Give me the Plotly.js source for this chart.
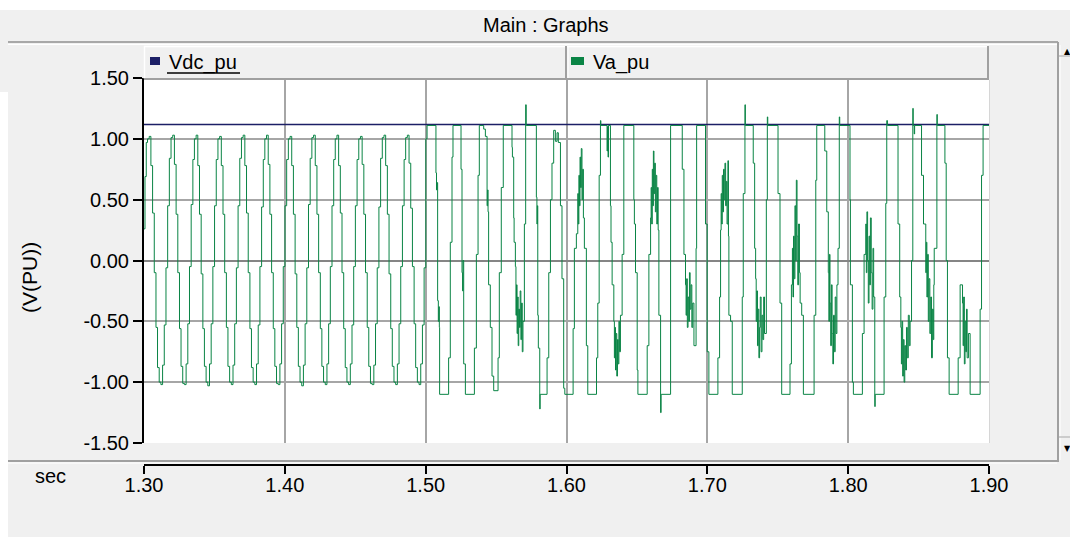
<!DOCTYPE html>
<html>
<head>
<meta charset="utf-8">
<script src="https://cdn.plot.ly/plotly-3.0.1.min.js"></script>
<style>
html,body{margin:0;padding:0;background:#f0f0f0;}
#chart{width:1070px;height:537px;}
</style>
</head>
<body>
<div id="chart"></div>
<script>
// ---------------- DATA ----------------
const seriesNames = ['Vdc_pu', 'Va_pu'];

// Vdc_pu : almost constant DC level
const tVdc = [1.30, 1.90];
const vVdc = [1.118, 1.118];

// Va_pu, steady multilevel staircase part (1.30 - 1.50 s), step changes
const tSteady = [
 1.3000, 1.3007, 1.3016,
 1.3025, 1.3037, 1.3049, 1.3061, 1.3073, 1.3085, 1.3096, 1.3108, 1.3120, 1.3132, 1.3144, 1.3156, 1.3168, 1.3180,
 1.3192, 1.3204, 1.3216, 1.3228, 1.3240, 1.3252, 1.3263, 1.3275, 1.3287, 1.3299, 1.3311, 1.3323, 1.3335, 1.3347,
 1.3358, 1.3370, 1.3382, 1.3394, 1.3406, 1.3418, 1.3429, 1.3441, 1.3453, 1.3465, 1.3477, 1.3489, 1.3501, 1.3513,
 1.3525, 1.3537, 1.3549, 1.3561, 1.3573, 1.3585, 1.3596, 1.3608, 1.3620, 1.3632, 1.3644, 1.3656, 1.3668, 1.3680,
 1.3692, 1.3704, 1.3716, 1.3728, 1.3740, 1.3752, 1.3763, 1.3775, 1.3787, 1.3799, 1.3811, 1.3823, 1.3835, 1.3847,
 1.3858, 1.3870, 1.3882, 1.3894, 1.3906, 1.3918, 1.3929, 1.3941, 1.3953, 1.3965, 1.3977, 1.3989, 1.4001, 1.4013,
 1.4025, 1.4037, 1.4049, 1.4061, 1.4073, 1.4085, 1.4096, 1.4108, 1.4120, 1.4132, 1.4144, 1.4156, 1.4168, 1.4180,
 1.4192, 1.4204, 1.4216, 1.4228, 1.4240, 1.4252, 1.4263, 1.4275, 1.4287, 1.4299, 1.4311, 1.4323, 1.4335, 1.4347,
 1.4358, 1.4370, 1.4382, 1.4394, 1.4406, 1.4418, 1.4429, 1.4441, 1.4453, 1.4465, 1.4477, 1.4489, 1.4501, 1.4513,
 1.4525, 1.4537, 1.4549, 1.4561, 1.4573, 1.4585, 1.4596, 1.4608, 1.4620, 1.4632, 1.4644, 1.4656, 1.4668, 1.4680,
 1.4692, 1.4704, 1.4716, 1.4728, 1.4740, 1.4752, 1.4763, 1.4775, 1.4787, 1.4799, 1.4811, 1.4823, 1.4835, 1.4847,
 1.4858, 1.4870, 1.4882, 1.4894, 1.4906, 1.4918, 1.4929, 1.4941, 1.4953, 1.4965, 1.4977, 1.4989, 1.5001
];
const vSteady = [
 0.26, 0.69, 0.97,
 1.00, 1.02, 0.78, 0.39, -0.10, -0.55, -0.88, -1.00, -1.02, -0.86, -0.53, -0.06, 0.45, 0.84,
 1.01, 1.03, 0.79, 0.38, -0.10, -0.56, -0.87, -1.01, -1.02, -0.85, -0.52, -0.05, 0.46, 0.83,
 1.00, 1.03, 0.78, 0.38, -0.11, -0.56, -0.87, -1.00, -1.03, -0.85, -0.52, -0.05, 0.45, 0.83,
 1.00, 1.02, 0.78, 0.38, -0.10, -0.55, -0.87, -1.00, -1.02, -0.86, -0.52, -0.06, 0.45, 0.84,
 1.01, 1.03, 0.78, 0.39, -0.10, -0.56, -0.88, -1.00, -1.02, -0.85, -0.53, -0.05, 0.44, 0.83,
 1.00, 1.03, 0.79, 0.38, -0.10, -0.56, -0.87, -1.01, -1.02, -0.85, -0.52, -0.05, 0.45, 0.83,
 1.00, 1.02, 0.78, 0.38, -0.11, -0.55, -0.87, -1.00, -1.03, -0.86, -0.52, -0.06, 0.46, 0.84,
 1.01, 1.03, 0.78, 0.38, -0.10, -0.56, -0.87, -1.00, -1.02, -0.85, -0.52, -0.05, 0.45, 0.83,
 1.00, 1.03, 0.78, 0.39, -0.10, -0.56, -0.88, -1.00, -1.02, -0.85, -0.53, -0.05, 0.45, 0.83,
 1.00, 1.02, 0.79, 0.38, -0.10, -0.55, -0.87, -1.01, -1.02, -0.86, -0.52, -0.06, 0.44, 0.84,
 1.01, 1.03, 0.78, 0.38, -0.11, -0.56, -0.87, -1.00, -1.02, -0.85, -0.52, -0.05, 0.45, 0.83,
 1.01, 1.03, 0.80, 0.43, -0.05, -0.52, -0.88, -1.00, -1.02, -0.85, -0.53, -0.06, 1.00
];

// Va_pu, disturbed part (1.50 - 1.90 s), step changes
const tDisturbed = [
 1.5010, 1.5073, 1.5077, 1.5081, 1.5085, 1.5090, 1.5094, 1.5097, 1.5099, 1.5163, 1.5175, 1.5187, 1.5194,
 1.5251, 1.5258, 1.5262, 1.5265, 1.5270, 1.5282, 1.5346, 1.5360, 1.5372, 1.5381, 1.5412, 1.5424,
 1.5436, 1.5440, 1.5443, 1.5447, 1.5459, 1.5471, 1.5483, 1.5514, 1.5523, 1.5537, 1.5551,
 1.5613, 1.5616, 1.5625, 1.5628, 1.5637, 1.5641, 1.5645, 1.5649, 1.5653, 1.5657, 1.5661, 1.5666,
 1.5671, 1.5676, 1.5681, 1.5686, 1.5691, 1.5701, 1.5710, 1.5714,
 1.5786, 1.5790, 1.5793, 1.5796, 1.5800, 1.5810, 1.5813, 1.5862, 1.5874, 1.5886, 1.5897, 1.5909,
 1.5921, 1.5933, 1.5942, 1.5957, 1.5968, 1.5980, 1.5988,
 1.6047, 1.6056, 1.6070, 1.6080, 1.6084, 1.6088, 1.6092, 1.6096, 1.6100, 1.6105, 1.6110, 1.6115,
 1.6120, 1.6127, 1.6141, 1.6151, 1.6213, 1.6222, 1.6232, 1.6241, 1.6244,
 1.6288, 1.6291, 1.6295, 1.6298, 1.6312, 1.6316, 1.6324, 1.6336, 1.6340, 1.6344, 1.6348, 1.6352,
 1.6357, 1.6362, 1.6367, 1.6372, 1.6377, 1.6383, 1.6395, 1.6407,
 1.6478, 1.6482, 1.6490, 1.6502, 1.6507, 1.6573, 1.6585, 1.6597, 1.6601, 1.6605, 1.6609, 1.6613,
 1.6617, 1.6621, 1.6626, 1.6631, 1.6636, 1.6641, 1.6646, 1.6651, 1.6656, 1.6668, 1.6672, 1.6739,
 1.6822, 1.6834, 1.6845, 1.6849, 1.6853, 1.6858, 1.6863, 1.6868, 1.6873, 1.6878, 1.6884, 1.6890,
 1.6896, 1.6905, 1.6920, 1.6924, 1.6987, 1.6999, 1.7011,
 1.7075, 1.7087, 1.7094, 1.7098, 1.7102, 1.7106, 1.7110, 1.7115, 1.7120, 1.7125, 1.7130, 1.7135,
 1.7140, 1.7146, 1.7150, 1.7153, 1.7165, 1.7177, 1.7248, 1.7255, 1.7267, 1.7270,
 1.7326, 1.7336, 1.7343, 1.7347, 1.7351, 1.7356, 1.7361, 1.7366, 1.7371, 1.7376, 1.7382, 1.7388,
 1.7394, 1.7400, 1.7406, 1.7419, 1.7426, 1.7429,
 1.7502, 1.7516, 1.7528, 1.7587, 1.7597, 1.7604, 1.7608, 1.7612, 1.7617, 1.7622, 1.7627, 1.7632,
 1.7637, 1.7642, 1.7648, 1.7654, 1.7659, 1.7670, 1.7682, 1.7758, 1.7770, 1.7777,
 1.7834, 1.7848, 1.7859, 1.7863, 1.7867, 1.7871, 1.7876, 1.7881, 1.7886, 1.7891, 1.7896, 1.7902,
 1.7908, 1.7914, 1.7920, 1.7928, 1.7937, 1.7940,
 1.8013, 1.8016, 1.8030, 1.8037, 1.8101, 1.8113, 1.8125, 1.8129, 1.8133, 1.8138, 1.8143, 1.8148,
 1.8153, 1.8158, 1.8164, 1.8170, 1.8176, 1.8181, 1.8189, 1.8192, 1.8255, 1.8267, 1.8274, 1.8279,
 1.8354, 1.8366, 1.8374, 1.8378, 1.8382, 1.8387, 1.8392, 1.8397, 1.8402, 1.8408, 1.8414, 1.8420,
 1.8427, 1.8434, 1.8440, 1.8450, 1.8459, 1.8462, 1.8469, 1.8472,
 1.8521, 1.8535, 1.8551, 1.8555, 1.8559, 1.8564, 1.8569, 1.8574, 1.8580, 1.8586, 1.8592, 1.8598,
 1.8604, 1.8608, 1.8611, 1.8630, 1.8633,
 1.8687, 1.8696, 1.8705, 1.8717, 1.8781, 1.8795, 1.8812, 1.8816, 1.8820, 1.8825, 1.8830, 1.8835,
 1.8840, 1.8845, 1.8854, 1.8866, 1.8937, 1.8947, 1.8958, 1.9000
];
const vDisturbed = [
 1.11, 0.72, 0.58, 0.64, -0.33, -0.50, -0.38, -0.55, -1.10, -0.80, 0.15, 0.85, 1.11,
 0.75, -0.10, -0.25, 0.00, -0.85, -1.10, -0.72, 0.05, 0.70, 1.11, 1.08, 1.02,
 0.45, 0.58, 0.40, -0.20, -0.55, -0.95, -1.07, -0.80, -0.10, 0.60, 1.11,
 0.93, 0.85, 0.35, 0.15, -0.05, -0.45, -0.20, -0.60, -0.30, -0.70, -0.40, -0.55,
 -0.25, -0.65, -0.35, -0.75, -0.50, 0.30, 1.28, 1.11,
 0.52, 0.30, 0.45, -0.45, -0.72, -1.22, -1.10, -0.80, -0.10, 0.50, 0.80, 1.07,
 0.98, 1.05, 0.97, 0.45, -0.15, -1.05, -1.10,
 -0.56, 0.10, 0.22, 0.55, 0.30, 0.70, 0.45, 0.85, 0.60, 0.92, 0.50, 0.75,
 0.35, 0.10, -0.70, -1.10, -0.80, -0.35, 0.70, 1.15, 1.11,
 0.90, 1.10, 0.85, 1.11, 0.45, 0.15, -0.20, -0.50, -0.80, -0.55, -0.90, -0.60,
 -0.95, -0.65, -0.85, -0.50, -0.75, -0.45, 0.05, 1.11,
 0.50, 0.30, -0.10, -0.90, -1.10, -0.70, 0.05, 0.35, 0.60, 0.30, 0.75, 0.45,
 0.90, 0.55, 0.80, 0.40, 0.70, 0.30, 0.60, 0.25, -0.45, -1.25, -1.10, 1.11,
 0.75, 0.05, -0.20, -0.45, -0.15, -0.55, -0.30, -0.50, -0.10, -0.40, -0.20, -0.55,
 -0.35, -0.70, 0.10, 1.11, 0.30, -0.75, -1.10,
 -0.80, -0.30, 0.25, 0.55, 0.30, 0.70, 0.40, 0.75, 0.50, 0.80, 0.45, 0.65,
 0.30, 0.82, 0.20, -0.45, -0.50, -1.10, -0.30, 0.55, 1.28, 1.11,
 0.80, 0.10, -0.15, -0.50, -0.25, -0.70, -0.40, -0.80, -0.55, -0.30, -0.75, -0.45,
 -0.65, -0.30, -0.60, 0.50, 1.18, 1.11,
 0.55, -0.35, -1.10, -0.85, -0.20, 0.10, -0.30, 0.20, -0.15, 0.45, 0.00, 0.66,
 0.20, -0.20, 0.30, -0.10, -0.35, -0.45, -1.10, -0.45, 0.66, 1.11,
 0.90, 0.40, -0.10, -0.50, 0.05, -0.35, -0.70, -0.20, -0.60, -0.85, -0.45, -0.75,
 -0.30, -0.60, -0.20, 0.10, 1.18, 1.11,
 0.50, -0.20, -1.00, -1.10, -0.60, 0.05, 0.30, -0.10, 0.40, 0.00, -0.35, 0.20,
 -0.20, 0.35, -0.10, -0.40, 0.10, -0.30, -1.20, -1.10, -0.30, 0.47, 1.15, 1.11,
 0.30, -0.30, -0.55, -0.85, -0.50, -0.95, -0.65, -1.00, -0.70, -0.90, -0.55, -0.80,
 -0.45, -0.70, -0.50, 0.00, 1.25, 1.11, 1.04, 1.11,
 0.70, 0.30, -0.10, 0.15, -0.30, 0.05, -0.50, -0.15, -0.60, -0.30, -0.80, -0.40,
 -0.65, -0.20, 0.10, 1.20, 1.11,
 0.80, 0.00, -0.80, -1.10, -0.80, -0.20, -0.35, -0.70, -0.30, -0.85, -0.50, -0.75,
 -0.40, -0.80, -0.60, -1.10, -0.40, 0.70, 1.11, 1.11
];

// Axis ticks
const xTickVals = [1.30, 1.40, 1.50, 1.60, 1.70, 1.80, 1.90];
const xTickText = ['1.30', '1.40', '1.50', '1.60', '1.70', '1.80', '1.90'];
const yTickVals = [-1.5, -1.0, -0.5, 0, 0.5, 1.0, 1.5];
const yTickText = ['-1.50', '-1.00', '-0.50', '0.00', '0.50', '1.00', '1.50'];

// ---------------- CHART ----------------
const W = 1070, H = 537;
const L = 144, R = 989, T = 78, B = 465;       // paper area in pixels
const plotBottom = 443;                          // bottom of white plot area
const px = X => (X - L) / (R - L);
const py = Y => (B - Y) / (B - T);

const tVa = tSteady.concat(tDisturbed);
const vVa = vSteady.concat(vDisturbed);

const navy = '#1c1f66';
const green = '#0a8445';

const traces = [
  { x: tVdc, y: vVdc, type: 'scatter', mode: 'lines', name: seriesNames[0],
    line: { color: navy, width: 1.6 }, hoverinfo: 'skip' },
  { x: tVa, y: vVa, type: 'scatter', mode: 'lines', name: seriesNames[1],
    line: { color: green, width: 1, shape: 'hv' }, hoverinfo: 'skip' }
];

function hline(Y, X0, X1, color, w) {
  return { type: 'line', xref: 'paper', yref: 'paper', x0: px(X0), x1: px(X1), y0: py(Y), y1: py(Y),
           line: { color: color, width: w } };
}
function vline(X, Y0, Y1, color, w) {
  return { type: 'line', xref: 'paper', yref: 'paper', x0: px(X), x1: px(X), y0: py(Y0), y1: py(Y1),
           line: { color: color, width: w } };
}
function rect(X0, Y0, X1, Y1, fill) {
  return { type: 'rect', xref: 'paper', yref: 'paper', x0: px(X0), x1: px(X1), y0: py(Y0), y1: py(Y1),
           fillcolor: fill, line: { width: 0 } };
}

const shapes = [
  rect(-5, -5, 1075, 10, '#ffffff'),
  rect(-5, 92, 8, 545, '#ffffff'),
  hline(42, 8, 1058, '#a8a8a8', 2),
  hline(44.5, 8, 1057, '#ffffff', 1),
  // legend header
  hline(46.5, 144, 988, '#ffffff', 1.5),
  vline(144.5, 46, 79, '#ffffff', 1.5),
  hline(79, 144, 989, '#a0a0a0', 2),
  vline(566, 46, 79, '#a0a0a0', 2),
  vline(568, 47, 78, '#ffffff', 1),
  vline(988, 46, 79, '#a0a0a0', 2),
  rect(150, 57, 160, 65, navy),
  rect(571, 57, 584, 65, green),
  hline(73, 167, 240, '#000000', 1.5),
  // right border of plot
  vline(989.5, 80, 443, '#d6d6d6', 1),
  // separator above x axis
  hline(461, 8, 1058, '#a0a0a0', 2),
  hline(463, 8, 1057, '#ffffff', 1),
  // scrollbar
  vline(1058, 42, 462, '#a0a0a0', 2),
  vline(1060, 45, 460, '#ffffff', 1),
  hline(56, 1059, 1075, '#c0c0c0', 1.5),
  hline(437, 1059, 1075, '#c0c0c0', 1.5)
];

const FONT = 'Liberation Sans, Arial, sans-serif';
const annotations = [
  { text: 'Main : Graphs', xref: 'paper', yref: 'paper', x: px(545.5), y: py(25), xanchor: 'center', yanchor: 'middle',
    showarrow: false, font: { family: FONT, size: 20, color: '#000' } },
  { text: seriesNames[0], xref: 'paper', yref: 'paper', x: px(167), y: py(62), xanchor: 'left', yanchor: 'middle',
    showarrow: false, font: { family: FONT, size: 20, color: '#000' } },
  { text: seriesNames[1], xref: 'paper', yref: 'paper', x: px(591), y: py(62), xanchor: 'left', yanchor: 'middle',
    showarrow: false, font: { family: FONT, size: 20, color: '#000' } },
  { text: '(V(PU))', xref: 'paper', yref: 'paper', x: px(29), y: py(278), xanchor: 'center', yanchor: 'middle',
    textangle: -90, showarrow: false, font: { family: FONT, size: 21, color: '#000' } },
  { text: 'sec', xref: 'paper', yref: 'paper', x: px(50), y: py(476), xanchor: 'center', yanchor: 'middle',
    showarrow: false, font: { family: FONT, size: 20, color: '#000' } },
  { text: '▲', xref: 'paper', yref: 'paper', x: px(1062), y: py(51), xanchor: 'left', yanchor: 'middle',
    showarrow: false, font: { family: 'DejaVu Sans', size: 8, color: '#000' } },
  { text: '▼', xref: 'paper', yref: 'paper', x: px(1062), y: py(448), xanchor: 'left', yanchor: 'middle',
    showarrow: false, font: { family: 'DejaVu Sans', size: 8, color: '#000' } }
];

const layout = {
  width: W, height: H,
  margin: { l: L, r: W - R, t: T, b: H - B, pad: 0 },
  paper_bgcolor: '#f0f0f0',
  plot_bgcolor: '#ffffff',
  showlegend: false,
  font: { family: FONT, size: 20, color: '#000' },
  xaxis: {
    range: [1.30, 1.90], anchor: 'free', position: 0,
    tickmode: 'array', tickvals: xTickVals, ticktext: xTickText,
    ticks: 'outside', ticklen: 8, tickwidth: 2, tickcolor: '#000',
    ticklabelstandoff: -6,
    showline: true, linecolor: '#000', linewidth: 2,
    showgrid: true, gridcolor: '#a6a6a6', gridwidth: 2, zeroline: false,
    tickfont: { family: FONT, size: 20, color: '#000' }, fixedrange: true
  },
  yaxis: {
    range: [-1.5, 1.5], domain: [py(plotBottom), 1], anchor: 'x',
    tickmode: 'array', tickvals: yTickVals, ticktext: yTickText,
    ticks: 'outside', ticklen: 9, tickwidth: 2, tickcolor: '#000',
    showline: true, linecolor: '#000', linewidth: 2,
    showgrid: true, gridcolor: '#a6a6a6', gridwidth: 2,
    zeroline: true, zerolinecolor: '#858585', zerolinewidth: 2,
    tickfont: { family: FONT, size: 20, color: '#000' }, fixedrange: true
  },
  shapes: shapes,
  annotations: annotations
};

Plotly.newPlot('chart', traces, layout, { staticPlot: true, displayModeBar: false });
</script>
</body>
</html>
